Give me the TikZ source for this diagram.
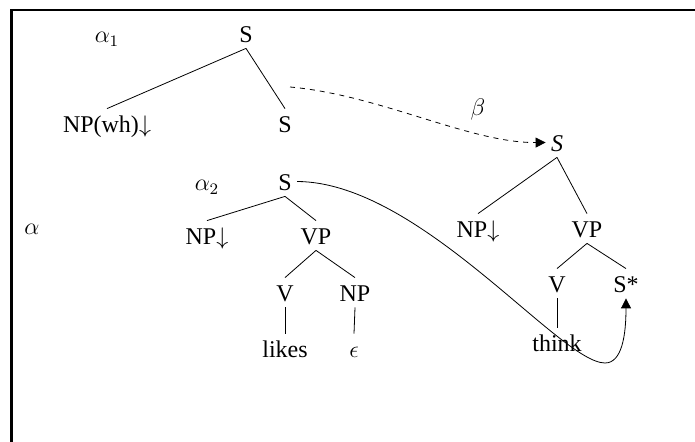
\documentclass[tikz,border=0pt]{standalone}
\usepackage{fontspec}
\setmainfont{Liberation Serif}
\usetikzlibrary{arrows.meta}

\begin{document}
\begin{tikzpicture}[x=0.5pt,y=-0.5pt, >={Triangle[length=5pt,width=5pt]},
  every node/.style={font=\fontsize{12pt}{14pt}\selectfont},
  cat/.style={anchor=base,text height=9.5pt,text depth=0pt,inner sep=2.5pt},
  lab/.style={anchor=base,inner sep=0pt},
  frame/.style={line width=1.1pt}]
 \useasboundingbox (0,0) rectangle (695,442);
 \draw[frame] (695,10) -- (11.5,10) -- (11.5,442);
 % alpha_1
 \node[lab] (a1) at (107,43) {$\alpha_1$};
 \node[cat] (s1) at (246,43) {S};
 \node[cat] (np1) at (107,133) {NP(wh)$\downarrow$};
 \node[cat] (s1foot) at (285,133) {S};
 \coordinate (dstart) at (290,87);
 % alpha_2
 \node[lab] (a2) at (207,191) {$\alpha_2$};
 \node[cat] (s2) at (285,191) {S};
 \node[cat] (np2) at (207,245) {NP$\downarrow$};
 \node[cat] (vp2) at (316,245) {VP};
 \node[cat] (v2) at (285,302) {V};
 \node[cat] (np3) at (355,302) {NP};
 \node[cat] (likes) at (285,358) {likes};
 \node[cat] (eps) at (354,358) {$\epsilon$};
 \node[lab] (a) at (32,235) {$\alpha$};
 % beta
 \node[lab] (b) at (478,116) {$\beta$};
 \node[cat] (s3) at (557,152) {\textit{S}};
 \node[cat] (np4) at (478,238) {NP$\downarrow$};
 \node[cat] (vp3) at (587,238) {VP};
 \node[cat] (v3) at (557,293) {V};
 \node[cat] (sstar) at (626,293) {S*};
 \node[cat] (think) at (557,352) {think};
 \foreach \p/\c in {s1/np1,s1/s1foot,s2/np2,s2/vp2,vp2/v2,vp2/np3,v2/likes,
   np3/eps,s3/np4,s3/vp3,vp3/v3,vp3/sstar,v3/think}
   \draw (\p.south) -- (\c.north);
 \draw[->,dashed,dash pattern=on 2.5pt off 2.5pt] (dstart)
   .. controls (380,95) and (470,143) .. (s3.west);
 \draw[->] (s2.east) .. controls (420,182) and (560,363) .. (605,363)
   .. controls (622,363) and (626,335) .. (sstar.south);
\end{tikzpicture}
\end{document}
